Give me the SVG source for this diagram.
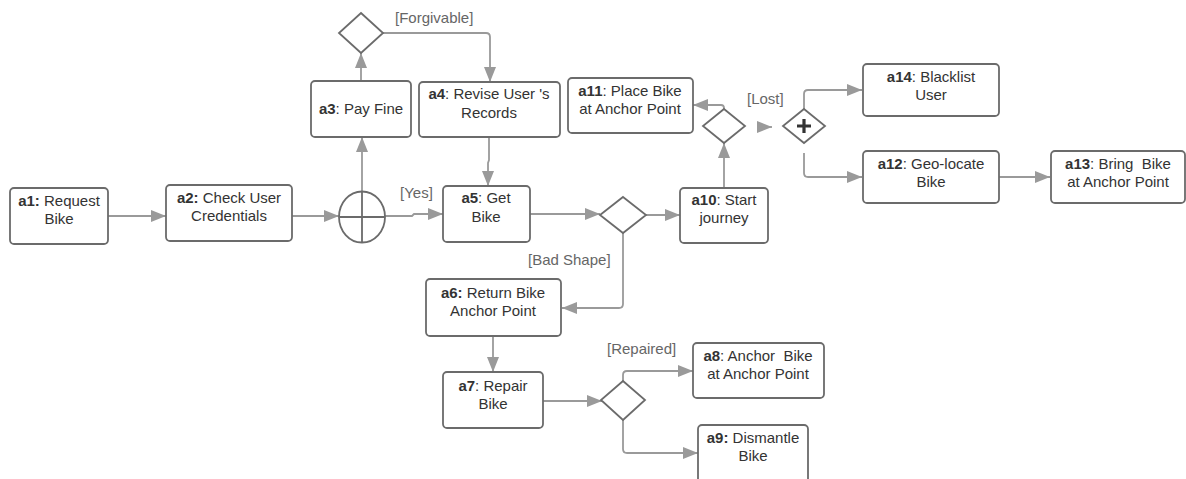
<svg xmlns="http://www.w3.org/2000/svg" width="1186" height="479" viewBox="0 0 1186 479">
<style>
.box{fill:#fff;stroke:#6b6b6b;stroke-width:1.8}
.gw{fill:#fff;stroke:#6b6b6b;stroke-width:1.8}
.t{font-family:"Liberation Sans",Arial,sans-serif;font-size:15px;fill:#333;text-anchor:middle;white-space:pre}
.t tspan.b{font-weight:bold}
.lbl{font-family:"Liberation Sans",Arial,sans-serif;font-size:15px;fill:#666;white-space:pre}
.c{fill:none;stroke:#9a9a9a;stroke-width:1.8}
</style>
<defs>
<marker id="arr" markerUnits="userSpaceOnUse" markerWidth="16" markerHeight="12" viewBox="0 0 16 12" refX="15" refY="6" orient="auto">
<path d="M0,0 L15,6 L0,12 Z" fill="#9a9a9a"/>
</marker>
</defs>
<rect width="1186" height="479" fill="#fff"/>
<g id="connectors">
<path class="c" d="M108,216 H166" marker-end="url(#arr)"/>
<path class="c" d="M292,216 H339" marker-end="url(#arr)"/>
<path class="c" d="M362,192 V137" marker-end="url(#arr)"/>
<path class="c" d="M361,81 V53" marker-end="url(#arr)"/>
<path class="c" d="M383,33 H486 Q490,33 490,37 V82" marker-end="url(#arr)"/>
<path class="c" d="M385,216 H412 L414,214 H443" marker-end="url(#arr)"/>
<path class="c" d="M489,137 V160 L488,163 V186" marker-end="url(#arr)"/>
<path class="c" d="M530,214 H600" marker-end="url(#arr)"/>
<path class="c" d="M646,215 H680" marker-end="url(#arr)"/>
<path class="c" d="M623,233 V304 Q623,308 619,308 H562" marker-end="url(#arr)"/>
<path class="c" d="M493,336 V372" marker-end="url(#arr)"/>
<path class="c" d="M543,401 H602" marker-end="url(#arr)"/>
<path class="c" d="M623,381 V375 Q623,371 627,371 H693" marker-end="url(#arr)"/>
<path class="c" d="M623,420 V449 Q623,453 627,453 H698" marker-end="url(#arr)"/>
<path class="c" d="M724,188 V143" marker-end="url(#arr)"/>
<path class="c" d="M724,109 V108 Q724,105 721,105 H693" marker-end="url(#arr)"/>
<path class="c" d="M758,127 H772" marker-end="url(#arr)"/>
<path class="c" d="M804,109 V94 Q804,90 808,90 H862" marker-end="url(#arr)"/>
<path class="c" d="M804,153 V173 Q804,177 808,177 H862" marker-end="url(#arr)"/>
<path class="c" d="M999,177 H1050" marker-end="url(#arr)"/>
</g>
<g id="labels">
<text class="lbl" x="395" y="23">[Forgivable]</text>
<text class="lbl" x="400" y="198">[Yes]</text>
<text class="lbl" x="747" y="104">[Lost]</text>
<text class="lbl" x="528" y="265">[Bad Shape]</text>
<text class="lbl" x="607" y="354">[Repaired]</text>
</g>
<g id="a1"><rect class="box" x="10" y="188" width="98" height="56" rx="4"/>
<text class="t" x="59" y="206"><tspan class="b">a1:</tspan> Request</text><text class="t" x="59" y="224">Bike</text></g>
<g id="a2"><rect class="box" x="166" y="185" width="126" height="56" rx="4"/>
<text class="t" x="229" y="203"><tspan class="b">a2:</tspan> Check User</text><text class="t" x="229" y="221">Credentials</text></g>
<g id="fork"><ellipse class="gw" cx="362" cy="217" rx="23" ry="25.5"/>
<path d="M339,217 H385 M362,191.5 V242.5" stroke="#6b6b6b" stroke-width="1.8"/></g>
<g id="a3"><rect class="box" x="311" y="81" width="100" height="56" rx="4"/>
<text class="t" x="361" y="114"><tspan class="b">a3</tspan>: Pay Fine</text></g>
<g id="d1"><path class="gw" d="M361,13 L383,33 L361,53 L339,33 Z"/></g>
<g id="a4"><rect class="box" x="419" y="82" width="141" height="55" rx="4"/>
<text class="t" x="489" y="99"><tspan class="b">a4</tspan>: Revise User 's</text><text class="t" x="489" y="118">Records</text></g>
<g id="a5"><rect class="box" x="443" y="186" width="87" height="56" rx="4"/>
<text class="t" x="486" y="203"><tspan class="b">a5</tspan>: Get</text><text class="t" x="486" y="222">Bike</text></g>
<g id="d2"><path class="gw" d="M623,197 L646,215 L623,233 L600,215 Z"/></g>
<g id="a10"><rect class="box" x="680" y="188" width="88" height="55" rx="4"/>
<text class="t" x="724" y="205"><tspan class="b">a10</tspan>: Start</text><text class="t" x="724" y="223">journey</text></g>
<g id="d3"><path class="gw" d="M724,109 L745,126 L724,143 L703,126 Z"/></g>
<g id="a11"><rect class="box" x="568" y="78" width="125" height="55" rx="4"/>
<text class="t" x="630" y="96"><tspan class="b">a11</tspan>: Place Bike</text><text class="t" x="630" y="114">at Anchor Point</text></g>
<g id="join"><path class="gw" d="M804,109 L825,126 L804,143 L783,126 Z"/>
<path d="M797,126 H811 M804,119 V133" stroke="#333" stroke-width="3.2"/></g>
<g id="a14"><rect class="box" x="863" y="64" width="136" height="52" rx="4"/>
<text class="t" x="931" y="82"><tspan class="b">a14</tspan>: Blacklist</text><text class="t" x="931" y="100">User</text></g>
<g id="a12"><rect class="box" x="863" y="151" width="136" height="52" rx="4"/>
<text class="t" x="931" y="169"><tspan class="b">a12</tspan>: Geo-locate</text><text class="t" x="931" y="187">Bike</text></g>
<g id="a13"><rect class="box" x="1051" y="151" width="134" height="52" rx="4"/>
<text class="t" x="1118" y="169"><tspan class="b">a13</tspan>: Bring  Bike</text><text class="t" x="1118" y="187">at Anchor Point</text></g>
<g id="a6"><rect class="box" x="426" y="279" width="135" height="57" rx="4"/>
<text class="t" x="493" y="298"><tspan class="b">a6:</tspan> Return Bike</text><text class="t" x="493" y="316">Anchor Point</text></g>
<g id="a7"><rect class="box" x="443" y="372" width="100" height="56" rx="4"/>
<text class="t" x="493" y="391"><tspan class="b">a7</tspan>: Repair</text><text class="t" x="493" y="409">Bike</text></g>
<g id="d4"><path class="gw" d="M623,381 L645,400 L623,420 L601,400 Z"/></g>
<g id="a8"><rect class="box" x="693" y="343" width="131" height="55" rx="4"/>
<text class="t" x="758" y="361"><tspan class="b">a8</tspan>: Anchor  Bike</text><text class="t" x="758" y="379">at Anchor Point</text></g>
<g id="a9"><rect class="box" x="698" y="425" width="110" height="60" rx="4"/>
<text class="t" x="753" y="443"><tspan class="b">a9:</tspan> Dismantle</text><text class="t" x="753" y="461">Bike</text></g>
</svg>
